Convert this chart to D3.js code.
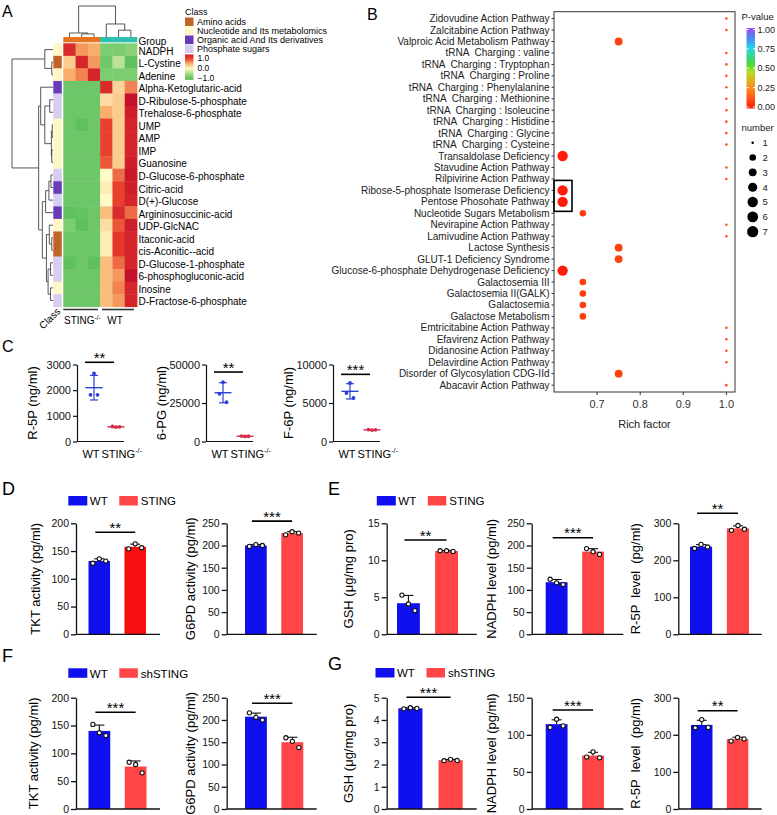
<!DOCTYPE html>
<html>
<head>
<meta charset="utf-8">
<script src="https://cdn.jsdelivr.net/npm/d3@7"></script>
<style>
body { margin: 0; background: #fff; }
text { font-family: "Liberation Sans", Arial, sans-serif; white-space: pre; }
</style>
</head>
<body>
<svg id="fig" width="777" height="815"></svg>
<script>
// ---------- A: heatmap ----------
var metabolites = ["NADPH", "L-Cystine", "Adenine", "Alpha-Ketoglutaric-acid", "D-Ribulose-5-phosphate",
    "Trehalose-6-phosphate", "UMP", "AMP", "IMP", "Guanosine", "D-Glucose-6-phosphate", "Citric-acid",
    "D(+)-Glucose", "Argininosuccinic-acid", "UDP-GlcNAC", "Itaconic-acid", "cis-Aconitic--acid",
    "D-Glucose-1-phosphate", "6-phosphogluconic-acid", "Inosine", "D-Fractose-6-phosphate"];
var metaClass = [1, 0, 1, 2, 3, 3, 1, 1, 1, 1, 3, 2, 3, 2, 1, 0, 0, 3, 3, 1, 3];
var classNames = ["Amino acids", "Nucleotide and Its metabolomics", "Organic acid And Its derivatives", "Phosphate sugars"];
var sampleGroup = [0, 0, 0, 1, 1, 1];
var heatValues = [
    [1.3, 0.6, 0.5, -0.8, -0.8, -0.7],
    [0.3, 1.4, 0.6, -0.9, -0.4, -1.0],
    [0.5, 0.7, 1.4, -0.8, -0.8, -0.8],
    [-0.9, -0.9, -0.9, 1.3, 0.25, 0.7],
    [-0.9, -0.9, -0.9, 0.2, 0.3, 1.7],
    [-0.9, -0.9, -0.9, 0.5, 0.3, 1.5],
    [-0.9, -1.0, -0.9, 1.0, 0.3, 1.4],
    [-0.9, -0.9, -0.9, 1.0, 0.3, 1.4],
    [-0.9, -0.9, -0.9, 1.0, 0.3, 1.4],
    [-0.9, -0.9, -0.9, 0.9, 0.3, 1.5],
    [-0.9, -0.9, -0.9, 0.0, 0.8, 1.6],
    [-0.9, -0.9, -0.9, 0.1, 1.0, 1.5],
    [-0.9, -0.9, -0.9, 0.0, 1.0, 1.4],
    [-1.0, -0.95, -0.9, 0.4, 1.3, 0.8],
    [-0.8, -1.0, -0.9, 0.2, 0.9, 1.5],
    [-0.9, -0.9, -0.9, 0.1, 1.1, 1.4],
    [-0.9, -0.9, -0.9, 0.1, 1.1, 1.4],
    [-1.0, -0.9, -1.0, 0.4, 0.8, 1.4],
    [-0.9, -0.9, -0.9, 0.4, 0.6, 1.7],
    [-0.9, -0.9, -0.9, 0.4, 0.7, 1.4],
    [-0.9, -0.9, -0.9, 0.4, 0.6, 1.4]
];
// [height, left, right]; numbers are leaf indices
var rowTree = [10, [2.0, 0, [0.3, 1, 2]],
    [3.5, [3.0, 3, [2.0, [0.8, 4, 5], [0.4, [0.2, 6, 7], [0.3, 8, 9]]]],
          [2.6, [1.8, [1.0, [0.5, 10, 11], 12], 13],
                [1.6, [0.9, 14, [0.3, 15, 16]], [1.2, [0.6, 17, 18], [0.6, 19, 20]]]]]];
var colTree = [10, [1.3, 0, [1.0, 1, 2]], [4.2, 3, [2.2, 4, 5]]];

// ---------- B: enrichment ----------
var pathways = ["Zidovudine Action Pathway", "Zalcitabine Action Pathway", "Valproic Acid Metabolism Pathway",
    "tRNA  Charging : valine", "tRNA  Charging : Tryptophan", "tRNA  Charging : Proline",
    "tRNA  Charging : Phenylalanine", "tRNA  Charging : Methionine", "tRNA  Charging : Isoleucine",
    "tRNA  Charging : Histidine", "tRNA  Charging : Glycine", "tRNA  Charging : Cysteine",
    "Transaldolase Deficiency", "Stavudine Action Pathway", "Rilpivirine Action Pathway",
    "Ribose-5-phosphate Isomerase Deficiency", "Pentose Phosohate Pathway", "Nucleotide Sugars Metabolism",
    "Nevirapine Action Pathway", "Lamivudine Action Pathway", "Lactose Synthesis", "GLUT-1 Deficiency Syndrome",
    "Glucose-6-phosphate Dehydrogenase Deficiency", "Galactosemia III", "Galactosemia II(GALK)", "Galactosemia",
    "Galactose Metabolism", "Emtricitabine Action Pathway", "Efavirenz Action Pathway", "Didanosine Action Pathway",
    "Delavirdine Action Pathway", "Disorder of Glycosylation CDG-IId", "Abacavir Action Pathway"];
var richFactor = [1, 1, 0.75, 1, 1, 1, 1, 1, 1, 1, 1, 1, 0.62, 1, 1, 0.62, 0.62, 0.667, 1, 1, 0.75, 0.75,
    0.62, 0.667, 0.667, 0.667, 0.667, 1, 1, 1, 1, 0.75, 1];
var pathNumber = [1, 1, 3, 1, 1, 1, 1, 1, 1, 1, 1, 1, 5, 1, 1, 5, 5, 2, 1, 1, 3, 3, 5, 2, 2, 2, 2, 1, 1, 1, 1, 3, 1];
var pathP = [0.13, 0.13, 0.09, 0.13, 0.13, 0.13, 0.13, 0.13, 0.13, 0.13, 0.13, 0.13, 0.01, 0.13, 0.13, 0.01, 0.01,
    0.08, 0.13, 0.13, 0.09, 0.09, 0.01, 0.08, 0.08, 0.08, 0.08, 0.13, 0.13, 0.13, 0.13, 0.09, 0.13];
var richTicks = [0.7, 0.8, 0.9, 1.0];
var pTicks = [0, 0.25, 0.5, 0.75, 1];
var numberTicks = [1, 2, 3, 4, 5, 6, 7];

// ---------- C: metabolite levels ----------
var cGroups = ["WT", "STING"];
var cR5P_WT = [2650, 1820, 1820], cR5P_ST = [560, 585, 570];
var c6PG_WT = [38500, 31000, 25500], c6PG_ST = [3300, 3500, 3400];
var cF6P_WT = [7600, 6300, 5650], cF6P_ST = [1480, 1550, 1520];

// ---------- D-G: bar charts ----------
var dTKT_WT = [128, 136, 132], dTKT_ST = [154, 163, 156];
var dG6PD_WT = [198, 202, 200], dG6PD_ST = [224, 231, 228];
var eGSH_WT = [5.3, 4.1, 3.2], eGSH_ST = [11.3, 11.3, 11.2];
var eNADPH_WT = [124, 116, 112], eNADPH_ST = [193, 186, 180];
var eR5P_WT = [232, 243, 236], eR5P_ST = [281, 294, 284];
var fTKT_WT = [152, 137, 132], fTKT_ST = [84, 80, 65];
var fG6PD_WT = [216, 206, 200], fG6PD_ST = [160, 152, 138];
var gGSH_WT = [4.5, 4.55, 4.52], gGSH_ST = [2.17, 2.23, 2.18];
var gNADPH_WT = [110, 121, 112], gNADPH_ST = [70, 77, 69];
var gR5P_WT = [219, 241, 220], gR5P_ST = [183, 193, 189];

var svg = d3.select("#fig");
var BLUE = "#1010EE", RED = "#FF4545";

// panel letters
[["A", 2, 17, 16], ["B", 367, 20, 16], ["C", 2, 352, 16], ["D", 2, 495, 18],
 ["E", 328, 495, 18], ["F", 2, 662, 18], ["G", 328, 670, 18]].forEach(function(l) {
    svg.append("text").attr("x", l[1]).attr("y", l[2]).attr("font-size", l[3]).text(l[0]);
});

function sup(sel, base, s, fs) {
    sel.append("tspan").text(base);
    sel.append("tspan").attr("font-size", fs).attr("dy", -fs * 0.6).text(s);
}

// ===== Panel A =====
var gA = svg.append("g");
var hmX = d3.scaleBand().domain(d3.range(6)).range([63.3, 137]);
var hmY = d3.scaleBand().domain(d3.range(metabolites.length)).range([43.3, 306.7]);
var heatColor = d3.scaleLinear()
    .domain([-1, -0.5, 0, 0.5, 1, 1.7])
    .range(["#5EC15E", "#A8DC8A", "#FFFAC8", "#F8AE6A", "#E8402C", "#C4102A"]).clamp(true);
var classColor = ["#C0642A", "#FFF8C4", "#6A3BB8", "#D8CCF0"];
var groupColor = ["#E5761F", "#2FBFB0"];

heatValues.forEach(function(row, i) {
    gA.selectAll(null).data(row).enter().append("rect")
        .attr("x", function(d, j) { return hmX(j); })
        .attr("y", hmY(i))
        .attr("width", hmX.bandwidth() + 0.4)
        .attr("height", hmY.bandwidth() + 0.4)
        .attr("fill", function(d) { return heatColor(d); });
});
gA.selectAll(".cls").data(metaClass).enter().append("rect")
    .attr("x", 53.3).attr("y", function(d, i) { return hmY(i); })
    .attr("width", 8.5).attr("height", hmY.bandwidth() + 0.4)
    .attr("fill", function(d) { return classColor[d]; });
gA.selectAll(".grp").data(sampleGroup).enter().append("rect")
    .attr("x", function(d, j) { return hmX(j); }).attr("y", 37)
    .attr("width", hmX.bandwidth() + 0.4).attr("height", 5.3)
    .attr("fill", function(d) { return groupColor[d]; });

gA.selectAll(".lab").data(metabolites).enter().append("text")
    .attr("x", 138.5).attr("y", function(d, i) { return hmY(i) + hmY.bandwidth() / 2 + 1.5; })
    .attr("dy", "0.35em").attr("font-size", 10).text(function(d) { return d; });
gA.append("text").attr("x", 138.5).attr("y", 41.5).attr("dy", "0.35em").attr("font-size", 10).text("Group");

// dendrograms
function layoutTree(node, leafPos, hPos, segs) {
    if (typeof node === "number") return { p: leafPos(node), h: hPos(0) };
    var a = layoutTree(node[1], leafPos, hPos, segs),
        b = layoutTree(node[2], leafPos, hPos, segs),
        h = hPos(node[0]);
    segs.push({ a: a, b: b, h: h });
    return { p: (a.p + b.p) / 2, h: h };
}
var rowSegs = [];
var rowH = d3.scaleLinear().domain([0, 10]).range([53, 12]);
layoutTree(rowTree, function(i) { return hmY(i) + hmY.bandwidth() / 2; }, rowH, rowSegs);
gA.selectAll(".rd").data(rowSegs).enter().append("path")
    .attr("d", function(s) { return "M" + s.a.h + "," + s.a.p + "H" + s.h + "V" + s.b.p + "H" + s.b.h; })
    .attr("fill", "none").attr("stroke", "#444").attr("stroke-width", 0.9);
var colSegs = [];
var colH = d3.scaleLinear().domain([0, 10]).range([37, 6]);
layoutTree(colTree, function(j) { return hmX(j) + hmX.bandwidth() / 2; }, colH, colSegs);
gA.selectAll(".cd").data(colSegs).enter().append("path")
    .attr("d", function(s) { return "M" + s.a.p + "," + s.a.h + "V" + s.h + "H" + s.b.p + "V" + s.b.h; })
    .attr("fill", "none").attr("stroke", "#444").attr("stroke-width", 0.9);

// bottom labels
gA.append("line").attr("x1", 63.3).attr("x2", 98).attr("y1", 309.5).attr("y2", 309.5).attr("stroke", "#333").attr("stroke-width", 1.6);
gA.append("line").attr("x1", 102).attr("x2", 134).attr("y1", 309.5).attr("y2", 309.5).attr("stroke", "#333").attr("stroke-width", 1.6);
sup(gA.append("text").attr("x", 64).attr("y", 323.5).attr("font-size", 10), "STING", "-/-", 6.5);
gA.append("text").attr("x", 115).attr("y", 323.5).attr("text-anchor", "middle").attr("font-size", 10).text("WT");
gA.append("text").attr("transform", "translate(61,312) rotate(-45)").attr("text-anchor", "end")
    .attr("font-size", 10).text("Class");

// A legends
gA.append("text").attr("x", 185).attr("y", 15).attr("font-size", 9).text("Class");
classNames.forEach(function(c, i) {
    gA.append("rect").attr("x", 185).attr("y", 17.5 + 9 * i).attr("width", 8.5).attr("height", 8.5).attr("fill", classColor[i]);
    gA.append("text").attr("x", 197).attr("y", 25 + 9 * i).attr("font-size", 9).text(c);
});
var legY = d3.scaleLinear().domain([-1, 1]).range([78.5, 58.5]);
var defs = svg.append("defs");
var hg = defs.append("linearGradient").attr("id", "hmGrad").attr("x1", 0).attr("y1", 1).attr("x2", 0).attr("y2", 0);
d3.range(-1.14, 1.42, 0.1).forEach(function(v) {
    hg.append("stop").attr("offset", (v + 1.14) / 2.55).attr("stop-color", heatColor(v));
});
gA.append("rect").attr("x", 185).attr("y", legY(1.41)).attr("width", 8.5)
    .attr("height", legY(-1.14) - legY(1.41)).attr("fill", "url(#hmGrad)");
[1, 0, -1].forEach(function(v) {
    gA.append("text").attr("x", 197.5).attr("y", legY(v) + 2.5).attr("font-size", 8.5).text(d3.format(".1f")(v));
});

// ===== Panel B =====
var gB = svg.append("g");
var bX = d3.scaleLinear().domain([0.6, 1.02]).range([554, 735]);
var bY = d3.scalePoint().domain(pathways).range([11.7, 392]).padding(0.6);
var pColor = d3.scaleLinear().domain([0, 0.25, 0.45, 0.55, 0.75, 0.88, 1])
    .range(["#FF1A0A", "#FF8A1E", "#B4DE1E", "#4CD63C", "#22D6E4", "#4C86F2", "#A24CF2"]);
var rSize = d3.scaleLinear().domain([1, 2, 5, 7]).range([1.3, 3.3, 5.2, 5.6]);

gB.append("rect").attr("x", 554).attr("y", 11.7).attr("width", 181).attr("height", 380.3)
    .attr("fill", "none").attr("stroke", "#333").attr("stroke-width", 1);
gB.selectAll(".yl").data(pathways).enter().append("text")
    .attr("x", 549.5).attr("y", function(d) { return bY(d); }).attr("dy", "0.35em")
    .attr("text-anchor", "end").attr("font-size", 10).attr("fill", "#222").text(function(d) { return d; });
gB.selectAll(".yt").data(pathways).enter().append("line")
    .attr("x1", 551.5).attr("x2", 554).attr("y1", function(d) { return bY(d); }).attr("y2", function(d) { return bY(d); })
    .attr("stroke", "#333");
gB.selectAll(".xt").data(richTicks).enter().append("line")
    .attr("x1", function(d) { return bX(d); }).attr("x2", function(d) { return bX(d); })
    .attr("y1", 392).attr("y2", 395).attr("stroke", "#333");
gB.selectAll(".xl").data(richTicks).enter().append("text")
    .attr("x", function(d) { return bX(d); }).attr("y", 408).attr("text-anchor", "middle")
    .attr("font-size", 11).attr("fill", "#333").text(function(d) { return d3.format(".1f")(d); });
gB.append("text").attr("x", bX(0.81)).attr("y", 427.5).attr("text-anchor", "middle")
    .attr("font-size", 11).attr("fill", "#222").text("Rich factor");
gB.selectAll(".dot").data(pathways).enter().append("circle")
    .attr("cx", function(d, i) { return bX(richFactor[i]); })
    .attr("cy", function(d) { return bY(d); })
    .attr("r", function(d, i) { return rSize(pathNumber[i]); })
    .attr("fill", function(d, i) { return pColor(pathP[i]); });
gB.append("rect").attr("x", 554).attr("y", bY(pathways[15]) - 10)
    .attr("width", 18).attr("height", bY(pathways[16]) - bY(pathways[15]) + 19.5)
    .attr("fill", "none").attr("stroke", "#000").attr("stroke-width", 1.6);

// P-value legend
var pY = d3.scaleLinear().domain([0, 1]).range([107, 29.5]);
var pg = defs.append("linearGradient").attr("id", "pGrad").attr("x1", 0).attr("y1", 1).attr("x2", 0).attr("y2", 0);
d3.range(0, 1.01, 0.05).forEach(function(v) {
    pg.append("stop").attr("offset", v).attr("stop-color", pColor(v));
});
gB.append("text").attr("x", 741.5).attr("y", 19.5).attr("font-size", 9.5).attr("fill", "#222").text("P-value");
gB.append("rect").attr("x", 746.5).attr("y", pY(1) - 1.5).attr("width", 8.5).attr("height", pY(0) - pY(1) + 3)
    .attr("fill", "url(#pGrad)");
pTicks.forEach(function(v) {
    gB.append("line").attr("x1", 746.5).attr("x2", 748.5).attr("y1", pY(v)).attr("y2", pY(v)).attr("stroke", "#fff");
    gB.append("line").attr("x1", 753).attr("x2", 755).attr("y1", pY(v)).attr("y2", pY(v)).attr("stroke", "#fff");
    gB.append("text").attr("x", 757.5).attr("y", pY(v) + 3.2).attr("font-size", 9).attr("fill", "#222").text(d3.format(".2f")(v));
});
gB.append("text").attr("x", 741.5).attr("y", 131).attr("font-size", 9.5).attr("fill", "#222").text("number");
var nY = d3.scaleLinear().domain([1, 7]).range([142.7, 231.7]);
numberTicks.forEach(function(n) {
    gB.append("circle").attr("cx", 752.7).attr("cy", nY(n)).attr("r", rSize(n)).attr("fill", "#000");
    gB.append("text").attr("x", 762.5).attr("y", nY(n) + 3.3).attr("font-size", 9.5).attr("fill", "#222").text(n);
});

// ===== Panel C =====
var cPlots = [
    { x0: 77, max: 3000, ticks: [0, 1000, 2000, 3000], wt: cR5P_WT, st: cR5P_ST, sig: 3086, stars: "**", label: "R-5P (ng/ml)" },
    { x0: 206, max: 50000, ticks: [0, 25000, 50000], wt: c6PG_WT, st: c6PG_ST, sig: 45100, stars: "**", label: "6-PG (ng/ml)" },
    { x0: 333, max: 10000, ticks: [0, 5000, 10000], wt: cF6P_WT, st: cF6P_ST, sig: 8720, stars: "***", label: "F-6P (ng/ml)" }
];
cPlots.forEach(function(p) {
    var g = svg.append("g");
    var y = d3.scaleLinear().domain([0, p.max]).range([441.5, 364.5]);
    var x = d3.scalePoint().domain(cGroups).range([p.x0 + 17, p.x0 + 39]);
    var ax = g.append("g").attr("transform", "translate(" + p.x0 + ",0)")
        .call(d3.axisLeft(y).tickValues(p.ticks).tickSize(4).tickSizeOuter(0).tickPadding(2).tickFormat(d3.format("d")));
    ax.selectAll("text").attr("font-size", 11).attr("fill", "#111").style("font-family", "'Liberation Sans', Arial, sans-serif");
    ax.selectAll("path,line").attr("stroke", "#111").attr("stroke-width", 1.2);
    g.append("line").attr("x1", p.x0).attr("x2", p.x0 + 47).attr("y1", 441.5).attr("y2", 441.5).attr("stroke", "#111").attr("stroke-width", 1.2);
    g.append("text").attr("transform", "translate(" + (p.x0 - 40) + ",403) rotate(-90)")
        .attr("text-anchor", "middle").attr("font-size", 13).text(p.label);
    g.append("text").attr("x", p.x0 + 14).attr("y", 457.5).attr("text-anchor", "middle").attr("font-size", 11).text("WT");
    sup(g.append("text").attr("x", p.x0 + 24.5).attr("y", 457.5).attr("font-size", 11), "STING", "-/-", 7);
    [[p.wt, "#2E3FD6", "WT"], [p.st, "#D2304C", "STING"]].forEach(function(s) {
        var m = d3.mean(s[0]), sd = d3.deviation(s[0]), cx = x(s[2]);
        g.append("line").attr("x1", cx).attr("x2", cx).attr("y1", y(m - sd)).attr("y2", y(m + sd)).attr("stroke", s[1]).attr("stroke-width", 1.2);
        [m - sd, m + sd].forEach(function(v) {
            g.append("line").attr("x1", cx - 4).attr("x2", cx + 4).attr("y1", y(v)).attr("y2", y(v)).attr("stroke", s[1]).attr("stroke-width", 1.2);
        });
        g.append("line").attr("x1", cx - 8.5).attr("x2", cx + 8.5).attr("y1", y(m)).attr("y2", y(m)).attr("stroke", s[1]).attr("stroke-width", 1.4);
        g.selectAll(null).data(s[0]).enter().append("circle")
            .attr("cx", function(d, i) { return cx + [0, -3.5, 3.5][i]; })
            .attr("cy", function(d) { return y(d); }).attr("r", 1.9).attr("fill", s[1]);
    });
    g.append("line").attr("x1", p.x0 + 8).attr("x2", p.x0 + 37).attr("y1", y(p.sig)).attr("y2", y(p.sig)).attr("stroke", "#000").attr("stroke-width", 1.6);
    g.append("text").attr("x", p.x0 + 22.5).attr("y", y(p.sig) + 0.5).attr("text-anchor", "middle").attr("font-size", 15).text(p.stars);
});

// ===== Panels D-G =====
var rowDE = { zero: 634.3, top: 523.3 }, rowFG = { zero: 809, top: 697.7 };
var barPlots = [
    { row: rowDE, x0: 76, x1: 160, b0: 88.5, b1: 146, max: 200, step: 50, wt: dTKT_WT, st: dTKT_ST, sig: 184, stars: "**", label: "TKT activity (pg/ml)", lx: 35, stColor: "#F80F0F" },
    { row: rowDE, x0: 226.7, x1: 316.7, b0: 245, b1: 303, max: 250, step: 50, wt: dG6PD_WT, st: dG6PD_ST, sig: 255, stars: "***", label: "G6PD activity (pg/ml)", lx: 190 },
    { row: rowDE, x0: 386.7, x1: 476.7, b0: 397, b1: 458, max: 15, step: 5, wt: eGSH_WT, st: eGSH_ST, sig: 12.74, stars: "**", label: "GSH (μg/mg pro)", lx: 348.3 },
    { row: rowDE, x0: 531.7, x1: 623.3, b0: 545.7, b1: 604, max: 250, step: 50, wt: eNADPH_WT, st: eNADPH_ST, sig: 217.6, stars: "***", label: "NADPH level (pg/ml)", lx: 491.7 },
    { row: rowDE, x0: 678.3, x1: 761.7, b0: 690, b1: 749, max: 300, step: 100, wt: eR5P_WT, st: eR5P_ST, sig: 327, stars: "**", label: "R-5P  level  (pg/ml)", lx: 635.7 },
    { row: rowFG, x0: 76, x1: 160, b0: 88.5, b1: 146.5, max: 200, step: 50, wt: fTKT_WT, st: fTKT_ST, sig: 173.8, stars: "***", label: "TKT activity (pg/ml)", lx: 33.3 },
    { row: rowFG, x0: 226.7, x1: 316.7, b0: 245, b1: 303.3, max: 250, step: 50, wt: fG6PD_WT, st: fG6PD_ST, sig: 237.4, stars: "***", label: "G6PD activity (pg/ml)", lx: 190 },
    { row: rowFG, x0: 386.7, x1: 476.7, b0: 398.3, b1: 462.7, max: 5, step: 1, wt: gGSH_WT, st: gGSH_ST, sig: 5.02, stars: "***", label: "GSH (μg/mg pro)", lx: 348.3 },
    { row: rowFG, x0: 531.7, x1: 623.3, b0: 545.7, b1: 604, max: 150, step: 50, wt: gNADPH_WT, st: gNADPH_ST, sig: 133.4, stars: "***", label: "NADPH level (pg/ml)", lx: 491.7 },
    { row: rowFG, x0: 678.3, x1: 761.7, b0: 691, b1: 748.3, max: 300, step: 100, wt: gR5P_WT, st: gR5P_ST, sig: 265, stars: "**", label: "R-5P  level  (pg/ml)", lx: 635.7 }
];
barPlots.forEach(function(p) {
    var g = svg.append("g");
    var y = d3.scaleLinear().domain([0, p.max]).range([p.row.zero, p.row.top]);
    var x = d3.scaleBand().domain(["WT", "ST"]).range([p.b0, p.b1]).paddingInner(0.4).paddingOuter(0);
    var series = [["WT", p.wt, BLUE], ["ST", p.st, p.stColor || RED]];
    g.selectAll(".bar").data(series).enter().append("rect")
        .attr("x", function(s) { return x(s[0]); })
        .attr("y", function(s) { return y(d3.mean(s[1])); })
        .attr("width", x.bandwidth())
        .attr("height", function(s) { return p.row.zero - y(d3.mean(s[1])); })
        .attr("fill", function(s) { return s[2]; });
    series.forEach(function(s) {
        var m = d3.mean(s[1]), sd = d3.deviation(s[1]), cx = x(s[0]) + x.bandwidth() / 2;
        g.append("line").attr("x1", cx).attr("x2", cx).attr("y1", y(m)).attr("y2", y(m + sd)).attr("stroke", "#111").attr("stroke-width", 1.1);
        g.append("line").attr("x1", cx - 5).attr("x2", cx + 5).attr("y1", y(m + sd)).attr("y2", y(m + sd)).attr("stroke", "#111").attr("stroke-width", 1.1);
        g.selectAll(null).data(s[1]).enter().append("circle")
            .attr("cx", function(d, i) { return cx + (i - 1) * 6.5; })
            .attr("cy", function(d) { return y(d); })
            .attr("r", 2.1).attr("fill", "#fff").attr("stroke", "#111").attr("stroke-width", 1.1);
    });
    var ax = g.append("g").attr("transform", "translate(" + p.x0 + ",0)")
        .call(d3.axisLeft(y).tickValues(d3.range(0, p.max + p.step / 2, p.step)).tickSize(5).tickSizeOuter(0).tickPadding(2).tickFormat(d3.format("~g")));
    ax.selectAll("text").attr("font-size", 10.5).attr("fill", "#111").style("font-family", "'Liberation Sans', Arial, sans-serif");
    ax.selectAll("path,line").attr("stroke", "#111").attr("stroke-width", 1.3);
    g.append("line").attr("x1", p.x0).attr("x2", p.x1).attr("y1", p.row.zero).attr("y2", p.row.zero).attr("stroke", "#111").attr("stroke-width", 1.3);
    g.append("text").attr("transform", "translate(" + p.lx + "," + ((p.row.zero + p.row.top) / 2) + ") rotate(-90)")
        .attr("text-anchor", "middle").attr("dy", "0.35em").attr("font-size", 13).text(p.label);
    var c1 = x("WT") + x.bandwidth() / 2 - 4, c2 = x("ST") + x.bandwidth() / 2;
    g.append("line").attr("x1", c1).attr("x2", c2).attr("y1", y(p.sig)).attr("y2", y(p.sig)).attr("stroke", "#000").attr("stroke-width", 1.6);
    g.append("text").attr("x", (c1 + c2) / 2).attr("y", y(p.sig) + 0.5).attr("text-anchor", "middle").attr("font-size", 15).text(p.stars);
});

// legends D-G
[[68.3, 496, "STING"], [376.8, 496, "STING"], [68.3, 668.3, "shSTING"], [375.5, 668, "shSTING"]].forEach(function(l) {
    var g = svg.append("g").attr("transform", "translate(" + l[0] + "," + l[1] + ")");
    g.append("rect").attr("width", 19).attr("height", 9.5).attr("fill", BLUE);
    g.append("text").attr("x", 21.5).attr("y", 9.3).attr("font-size", 11.5).text("WT");
    g.append("rect").attr("x", 51).attr("width", 18.5).attr("height", 9.5).attr("fill", RED);
    g.append("text").attr("x", 72.5).attr("y", 9.3).attr("font-size", 11.5).text(l[2]);
});
</script>
</body>
</html>
